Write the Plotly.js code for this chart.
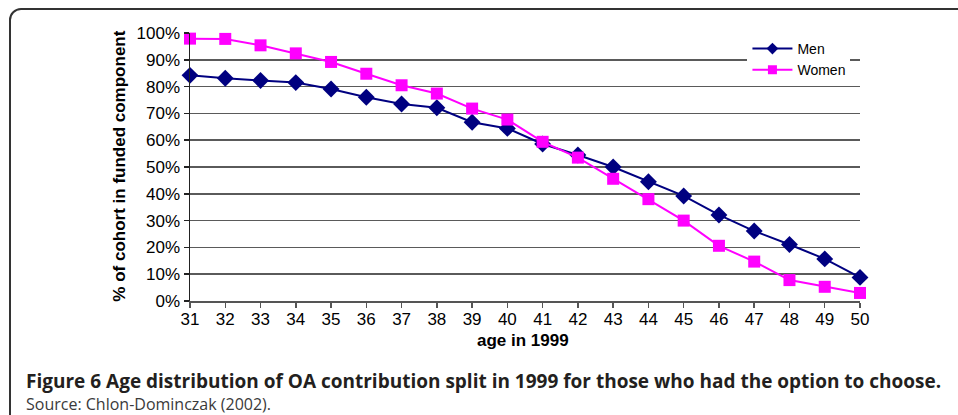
<!DOCTYPE html>
<html>
<head>
<meta charset="utf-8">
<script src="https://cdn.plot.ly/plotly-3.0.1.min.js"></script>
<style>
  html, body { margin: 0; padding: 0; width: 958px; height: 415px; overflow: hidden; background: #fff; }
  #frame { position: absolute; left: 9px; top: 8px; width: 1000px; height: 460px;
           border: 2px solid #333; border-radius: 12px; box-sizing: border-box; }
  #chart { position: absolute; left: 0; top: 0; width: 958px; height: 415px; }
</style>
</head>
<body>
<div id="frame"></div>
<div id="chart"></div>
<script>
// Age in 1999 (cohort)
const ages = [31, 32, 33, 34, 35, 36, 37, 38, 39, 40, 41, 42, 43, 44, 45, 46, 47, 48, 49, 50];

// Share of each cohort that chose the funded component (%)
const menShare = [84.2, 83.1, 82.3, 81.5, 79.1, 76.0, 73.5, 72.1, 66.7, 64.4, 58.6, 54.5, 50.0, 44.5, 39.2, 32.1, 26.1, 21.1, 15.7, 8.8];
const womenShare = [97.9, 97.8, 95.4, 92.4, 89.2, 84.8, 80.5, 77.4, 71.8, 67.7, 59.4, 53.5, 45.6, 38.0, 30.0, 20.6, 14.7, 7.8, 5.3, 3.0];

const seriesNames = ['Men', 'Women'];
const yTickVals = [0, 10, 20, 30, 40, 50, 60, 70, 80, 90, 100];
const yTickText = ['0%', '10%', '20%', '30%', '40%', '50%', '60%', '70%', '80%', '90%', '100%'];

const menColor = '#000080';
const womenColor = '#ff00ff';

const traces = [
  {
    x: ages, y: menShare, name: seriesNames[0], type: 'scatter', mode: 'lines+markers',
    line: { color: menColor, width: 2 },
    marker: { symbol: 'diamond', size: 13, color: menColor },
    cliponaxis: false, showlegend: false
  },
  {
    x: ages, y: womenShare, name: seriesNames[1], type: 'scatter', mode: 'lines+markers',
    line: { color: womenColor, width: 2 },
    marker: { symbol: 'square', size: 12, color: womenColor },
    cliponaxis: false, showlegend: false
  },
  // legend keys with smaller symbols
  {
    x: [null], y: [null], name: seriesNames[0], type: 'scatter', mode: 'lines+markers',
    line: { color: menColor, width: 2 },
    marker: { symbol: 'diamond', size: 9, color: menColor }
  },
  {
    x: [null], y: [null], name: seriesNames[1], type: 'scatter', mode: 'lines+markers',
    line: { color: womenColor, width: 2 },
    marker: { symbol: 'square', size: 9, color: womenColor }
  }
];

const layout = {
  width: 958, height: 415,
  margin: { l: 190, r: 98, t: 33, b: 114 },
  paper_bgcolor: 'rgba(0,0,0,0)',
  plot_bgcolor: 'rgba(0,0,0,0)',
  showlegend: true,
  legend: {
    x: 0.832, y: 1.0, xanchor: 'left', yanchor: 'top',
    bgcolor: '#ffffff', borderwidth: 0,
    font: { family: 'Liberation Sans, Arial, sans-serif', size: 14, color: '#000' },
    tracegroupgap: 0, itemwidth: 40
  },
  xaxis: {
    range: [31, 50], tickmode: 'array', tickvals: ages,
    showgrid: false, zeroline: false,
    showline: true, linecolor: '#555', linewidth: 2,
    ticks: 'outside', ticklen: 5, tickcolor: '#555', tickwidth: 1.5,
    ticklabelstandoff: -3,
    tickfont: { family: 'Liberation Sans, Arial, sans-serif', size: 17, color: '#000' }
  },
  yaxis: {
    range: [0, 100], tickmode: 'array', tickvals: yTickVals, ticktext: yTickText,
    showgrid: true, gridcolor: '#5a5a5a', gridwidth: 1.5,
    zeroline: false,
    showline: true, linecolor: '#222', linewidth: 1.5,
    ticks: 'outside', ticklen: 5, tickcolor: '#222', tickwidth: 1.5,
    tickfont: { family: 'Liberation Sans, Arial, sans-serif', size: 17, color: '#000' }
  },
  annotations: [
    {
      text: '% of cohort in funded component', textangle: -90,
      xref: 'paper', yref: 'paper', x: -0.1045, y: 0.505,
      xanchor: 'center', yanchor: 'middle', showarrow: false,
      font: { family: 'Liberation Sans, Arial, sans-serif', size: 17, color: '#000', weight: 'bold' }
    },
    {
      text: 'age in 1999',
      xref: 'paper', yref: 'paper', x: 0.497, y: -0.146,
      xanchor: 'center', yanchor: 'middle', showarrow: false,
      font: { family: 'Liberation Sans, Arial, sans-serif', size: 17, color: '#000', weight: 'bold' }
    },
    {
      text: '<b>Figure 6 Age distribution of OA contribution split in 1999 for those who had the option to choose.</b>',
      xref: 'paper', yref: 'paper', x: -0.2475, y: -0.2985,
      xanchor: 'left', yanchor: 'middle', showarrow: false, align: 'left',
      font: { family: 'Open Sans, sans-serif', size: 19, color: '#231f20' }
    },
    {
      text: 'Source: Chlon-Dominczak (2002).',
      xref: 'paper', yref: 'paper', x: -0.2475, y: -0.3843,
      xanchor: 'left', yanchor: 'middle', showarrow: false, align: 'left',
      font: { family: 'Open Sans, sans-serif', size: 16, color: '#3a3a3a' }
    }
  ]
};

Plotly.newPlot('chart', traces, layout, { displayModeBar: false, staticPlot: true });
</script>
</body>
</html>
